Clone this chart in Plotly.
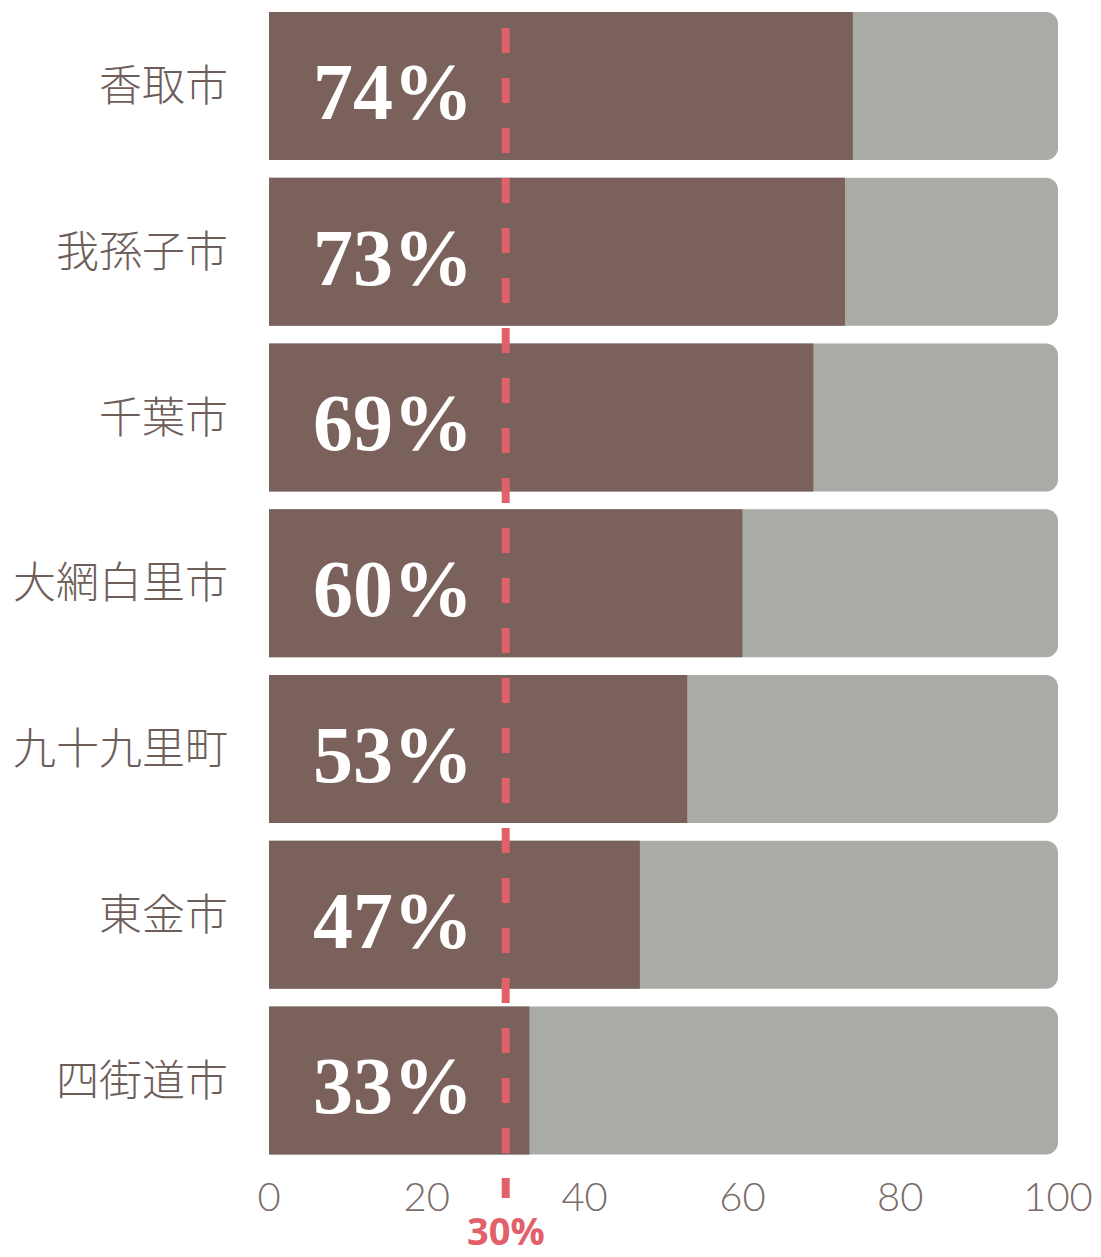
import plotly.graph_objects as go

categories = ["香取市", "我孫子市", "千葉市", "大網白里市", "九十九里町", "東金市", "四街道市"]
values = [74, 73, 69, 60, 53, 47, 33]
full = [100] * len(categories)
threshold = 30
tick_vals = [0, 20, 40, 60, 80, 100]

fig = go.Figure()
fig.add_trace(go.Bar(
    y=categories, x=full, orientation="h",
    marker=dict(color="#a9aba6", cornerradius=12, line=dict(width=0)),
    width=0.893, hoverinfo="skip", showlegend=False,
))
fig.add_trace(go.Bar(
    y=categories, x=values, orientation="h",
    marker=dict(color="#7b615b", line=dict(width=0)),
    width=0.893, showlegend=False,
))

for c, v in zip(categories, values):
    fig.add_annotation(
        x=5.3, y=c, xref="x", yref="y", text=f"{v}%", showarrow=False,
        xanchor="left", yanchor="middle", yshift=-6,
        font=dict(family="Liberation Serif", size=80, color="white", weight="bold"),
    )

fig.add_shape(
    type="line", xref="x", yref="paper", x0=threshold, x1=threshold,
    y0=0.9827, y1=-0.0303,
    line=dict(color="#e2606a", width=8, dash="25px,25px"),
)
fig.add_annotation(
    x=threshold, y=-0.058, xref="x", yref="paper", text=f"{threshold}%",
    showarrow=False, xanchor="center", yanchor="middle",
    font=dict(family="Open Sans", size=38, color="#e2606a", weight="bold"),
)

fig.update_layout(
    width=1101, height=1257,
    margin=dict(l=261, r=51, t=0, b=102),
    barmode="overlay",
    plot_bgcolor="white", paper_bgcolor="white",
    xaxis=dict(
        range=[0, 100], tickvals=tick_vals, showgrid=False, zeroline=False,
        showline=False, ticks="", ticklabelstandoff=7,
        tickfont=dict(family="Lato", size=40, color="#7a6c68", weight=300),
    ),
    yaxis=dict(
        categoryorder="array", categoryarray=categories,
        range=[6.498, -0.4706],
        showgrid=False, zeroline=False, showline=False, ticks="",
        ticklabelstandoff=40,
        tickfont=dict(family="Noto Sans CJK JP", size=43, color="#6e5e5a", weight=300),
    ),
)

fig.write_html("out.html")
